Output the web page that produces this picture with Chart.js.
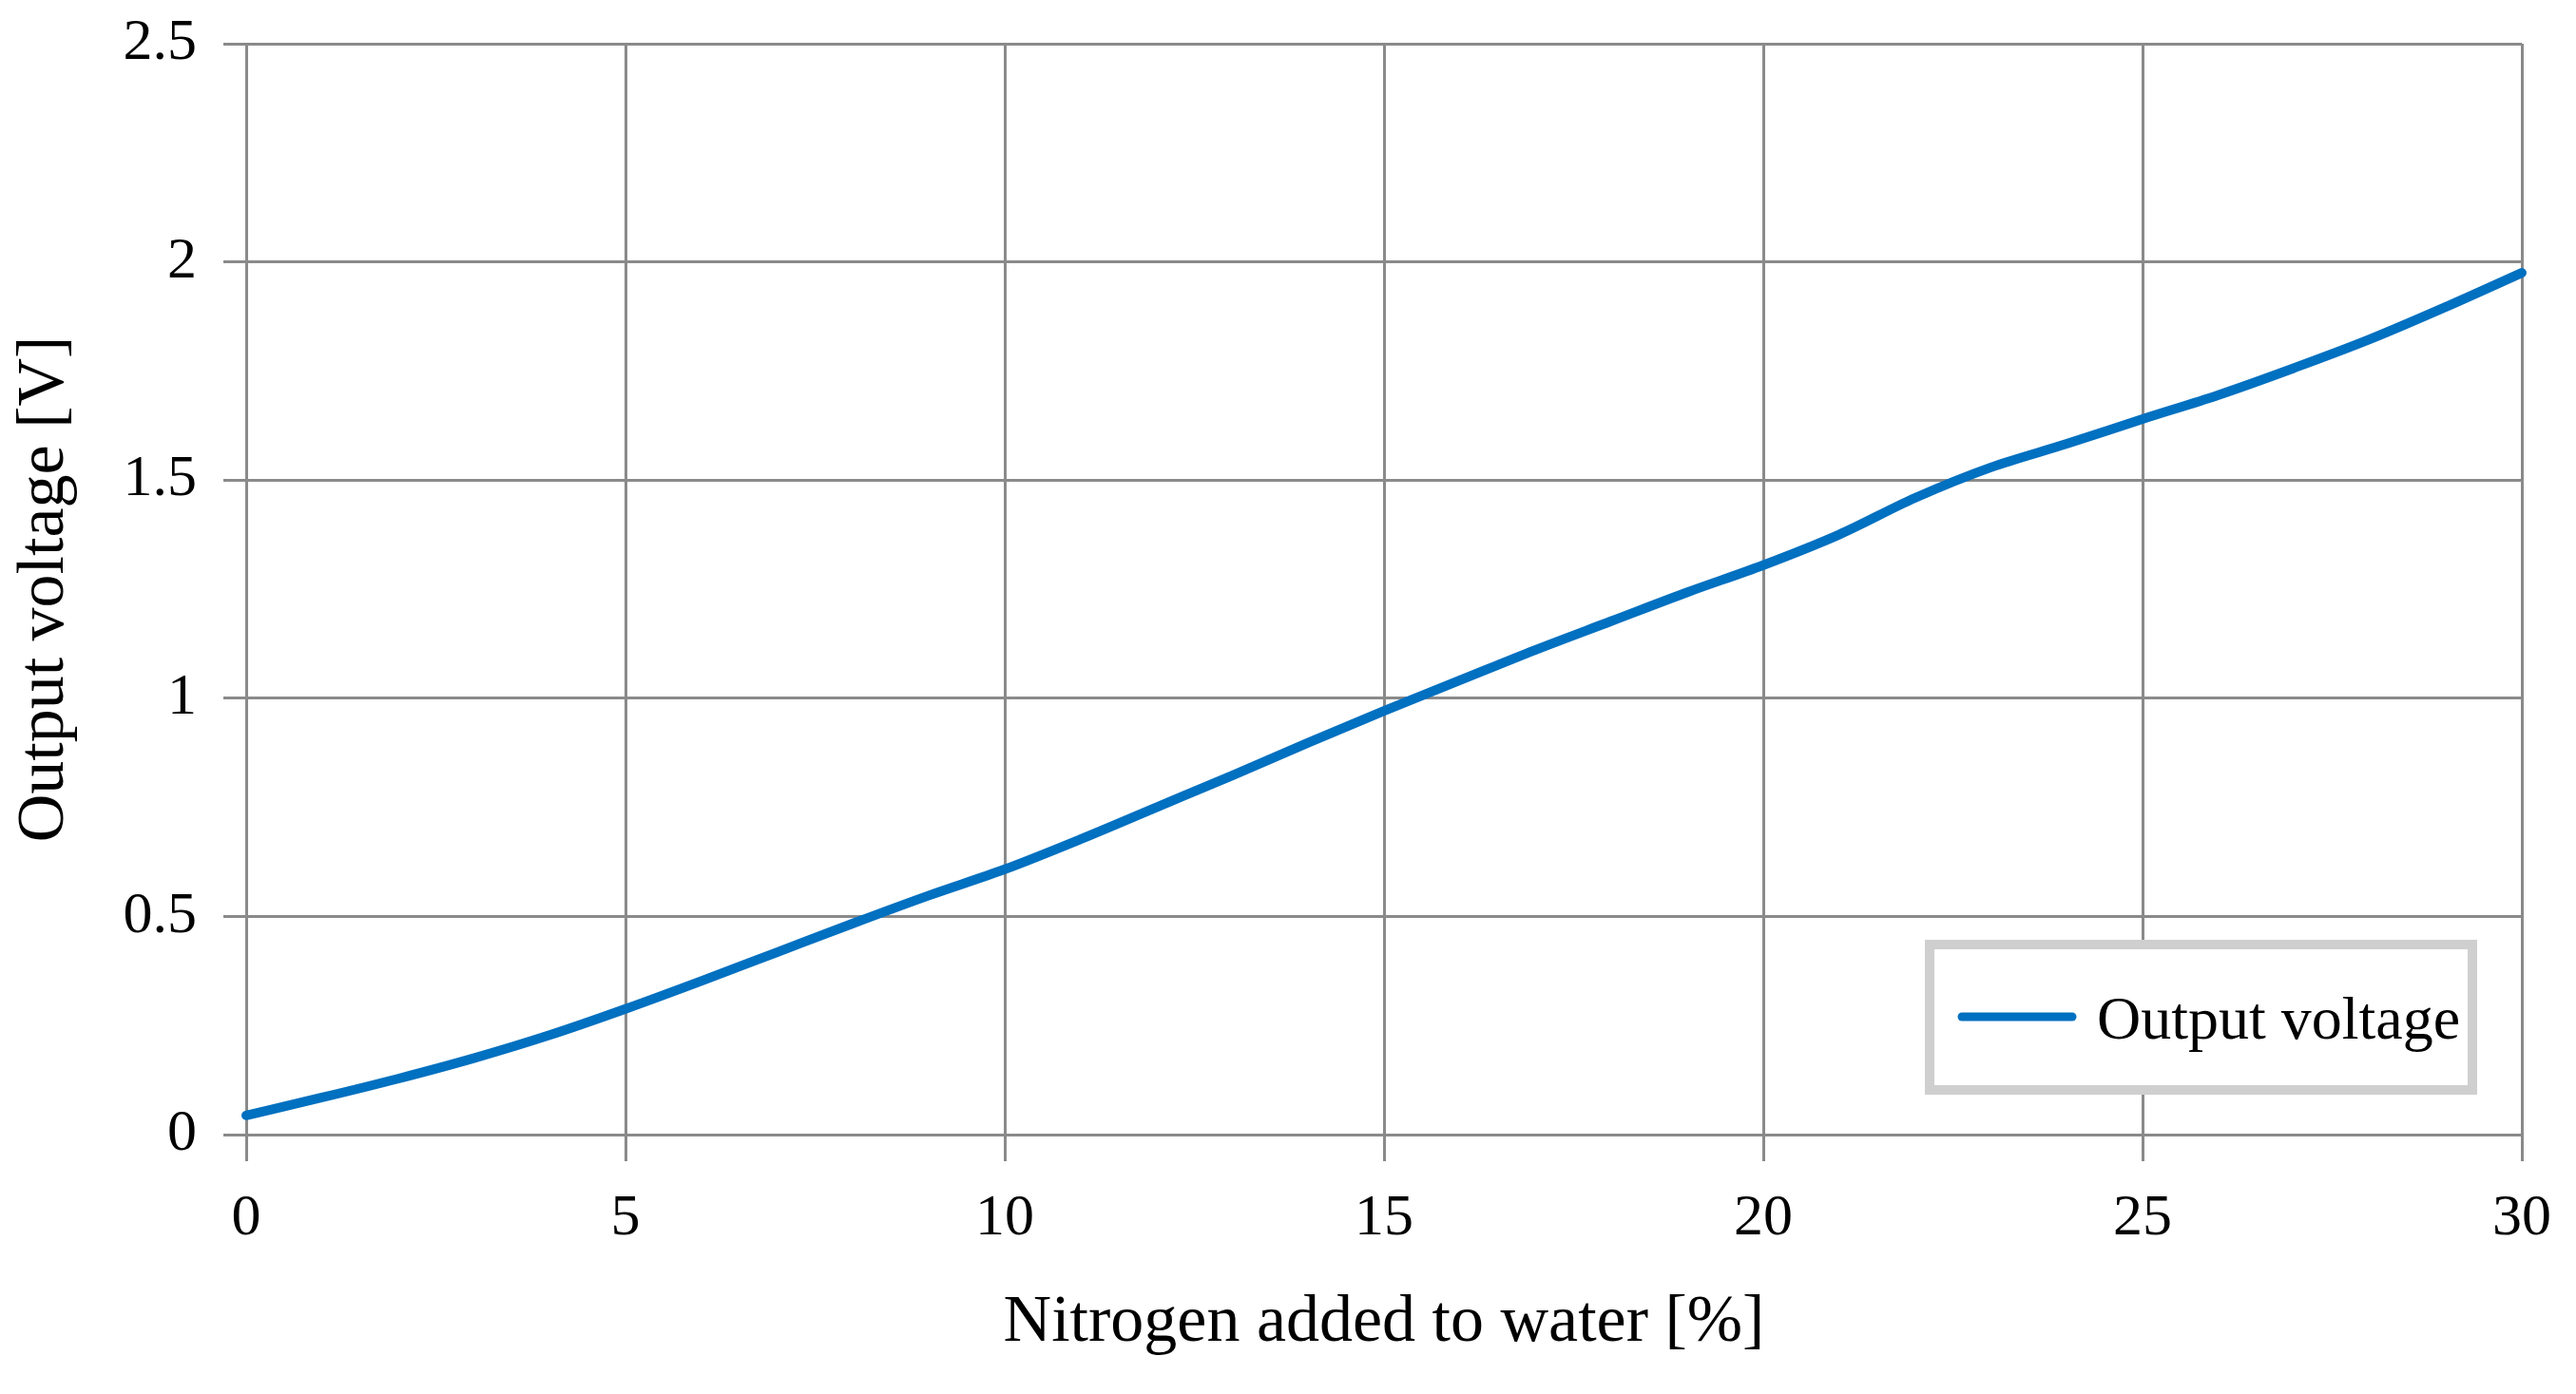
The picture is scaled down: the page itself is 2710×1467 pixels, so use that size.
<!DOCTYPE html>
<html>
<head>
<meta charset="utf-8">
<script src="https://cdn.jsdelivr.net/npm/chart.js@4/dist/chart.umd.min.js"></script>
<style>
  html, body { margin: 0; padding: 0; background: #fff; }
  #wrap { width: 2710px; height: 1467px; position: relative; }
</style>
</head>
<body>
<div id="wrap"><canvas id="voltage-chart"></canvas></div>
<script>
// Values
const nitrogenPct = [0, 1, 2, 3, 4, 5, 6, 7, 8, 9, 10, 11, 12, 13, 14, 15,
  16, 17, 18, 19, 20, 21, 22, 23, 24, 25, 26, 27, 28, 29, 30];
const outputVoltage = [0.044, 0.085, 0.128, 0.175, 0.228, 0.288, 0.352, 0.418, 0.484, 0.548, 0.608,
  0.677, 0.75, 0.823, 0.898, 0.971, 1.041, 1.111, 1.177, 1.243, 1.305,
  1.375, 1.459, 1.529, 1.583, 1.64, 1.695, 1.757, 1.823, 1.897, 1.975];
const xTicks = [0, 5, 10, 15, 20, 25, 30];
const yTicks = [0, 0.5, 1, 1.5, 2, 2.5];
const seriesLabel = 'Output voltage';
const xTitle = 'Nitrogen added to water [%]';
const yTitle = 'Output voltage [V]';

const FONT = '"Liberation Serif", "Times New Roman", serif';
const GRID = '#8a8a8a';
const BLUE = '#0070c0';

// Legend box sitting inside the plot, lower right
const boxLegend = {
  id: 'boxLegend',
  afterDraw(chart) {
    const ctx = chart.ctx;
    const ds = chart.data.datasets[0];
    ctx.save();
    ctx.fillStyle = '#fff';
    ctx.fillRect(2025, 989, 581, 163);
    ctx.strokeStyle = '#cfcfcf';
    ctx.lineWidth = 10;
    ctx.strokeRect(2030, 994, 571, 153);
    ctx.strokeStyle = ds.borderColor;
    ctx.lineWidth = 9;
    ctx.lineCap = 'round';
    ctx.beginPath();
    ctx.moveTo(2064, 1070);
    ctx.lineTo(2180, 1070);
    ctx.stroke();
    ctx.fillStyle = '#000';
    ctx.font = '64px ' + FONT;
    ctx.textBaseline = 'alphabetic';
    ctx.fillText(ds.label, 2206, 1093);
    ctx.restore();
  }
};

new Chart(document.getElementById('voltage-chart'), {
  type: 'line',
  data: {
    datasets: [{
      label: seriesLabel,
      data: nitrogenPct.map((x, i) => ({ x: x, y: outputVoltage[i] })),
      borderColor: BLUE,
      borderWidth: 10,
      borderCapStyle: 'round',
      pointRadius: 0,
      cubicInterpolationMode: 'monotone',
      clip: false
    }]
  },
  options: {
    responsive: true,
    maintainAspectRatio: false,
    animation: false,
    layout: { padding: { top: 46, right: 57, left: 0, bottom: 0 } },
    plugins: {
      legend: { display: false },
      tooltip: { enabled: false }
    },
    scales: {
      x: {
        type: 'linear',
        min: 0,
        max: 30,
        afterBuildTicks: s => { s.ticks = xTicks.map(v => ({ value: v })); },
        afterFit: s => { s.height = 273; s.paddingLeft = 0; s.paddingRight = 0; },
        grid: { color: GRID, lineWidth: 3, tickLength: 28, tickColor: GRID },
        border: { color: GRID, width: 3 },
        ticks: { color: '#000', font: { family: FONT, size: 62 }, padding: 24, maxRotation: 0 },
        title: {
          display: true,
          text: xTitle,
          color: '#000',
          font: { family: FONT, size: 70 },
          padding: { top: 0, bottom: 32 }
        }
      },
      y: {
        min: 0,
        max: 2.5,
        afterBuildTicks: s => { s.ticks = yTicks.map(v => ({ value: v })); },
        afterFit: s => { s.width = 259; s.paddingTop = 0; s.paddingBottom = 0; },
        grid: { color: GRID, lineWidth: 3, tickLength: 24, tickColor: GRID },
        border: { color: GRID, width: 3 },
        ticks: {
          color: '#000',
          font: { family: FONT, size: 62 },
          padding: 28,
          callback: v => String(v)
        },
        title: {
          display: true,
          text: yTitle,
          color: '#000',
          font: { family: FONT, size: 70 },
          padding: { top: 6, bottom: 0 }
        }
      }
    }
  },
  plugins: [boxLegend]
});
</script>
</body>
</html>
